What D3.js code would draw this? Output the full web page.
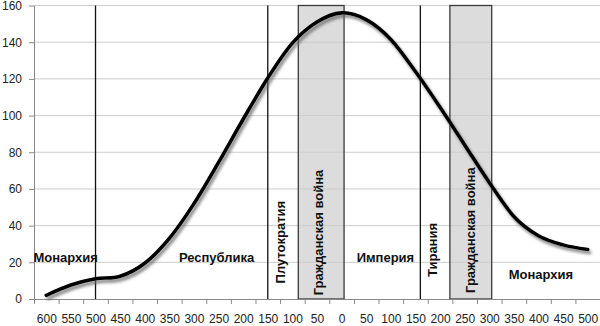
<!DOCTYPE html>
<html><head><meta charset="utf-8">
<script src="https://cdn.jsdelivr.net/npm/d3@7"></script>
<style>
html,body{margin:0;padding:0;background:#fff;}
svg{display:block;font-family:"Liberation Sans",Arial,sans-serif;}
</style></head>
<body>
<svg id="chart" width="600" height="326"></svg>
<script>
// ---- data ----
const categories = ["600","550","500","450","400","350","300","250","200","150","100","50","0","50","100","150","200","250","300","350","400","450","500"];
const years = [-600,-550,-500,-450,-400,-350,-300,-250,-200,-150,-100,-50,0,50,100,150,200,250,300,350,400,450,500];
const values = [2,7.6,11,12.4,19.5,33,52,74.5,98,120.5,139.5,151,156,152.3,141.5,124,104.5,84,63.5,45,34.5,29.5,27];
const yTicks = [0,20,40,60,80,100,120,140,160];
const dividerYears = [-500,-150,160];
const warStart = [-88,220];
const warEnd = [5,305];
const hLabels = ["Монархия","Республика","Империя","Монархия"];
const hLabelYear = [-626,-254,89,405];
const hLabelValue = [20,20,20,11];
const hLabelAnchor = ["start","middle","middle","middle"];
const vLabels = ["Плутократия","Гражданская война","Тирания","Гражданская война"];
const vLabelYear = [-125,-47,185,262];
const vLabelValue = [8.5,2,12,3.3];

// ---- layout ----
const svg = d3.select("#chart");
const mLeft = 34, mRight = 600, mTop = 5.5, mBottom = 299;
const x = d3.scaleLinear().domain([-625,525]).range([mLeft,mRight]);
const y = d3.scaleLinear().domain([0,160]).range([mBottom,mTop]);

const defs = svg.append("defs");
const f = defs.append("filter").attr("id","shadow").attr("x","-10%").attr("y","-10%").attr("width","120%").attr("height","130%");
f.append("feDropShadow").attr("dx",2).attr("dy",3).attr("stdDeviation",1.8).attr("flood-color","#666").attr("flood-opacity",0.8);

// war rectangles
svg.append("g").selectAll("rect").data(warStart).join("rect")
  .attr("x",(d)=>x(d))
  .attr("width",(d,i)=>x(warEnd[i])-x(d))
  .attr("y",y(160))
  .attr("height",y(0)-y(160))
  .attr("fill","#dcdcdc");

// gridlines
svg.append("g").selectAll("line").data(yTicks.filter(d=>d>0)).join("line")
  .attr("x1",mLeft).attr("x2",mRight)
  .attr("y1",d=>y(d)).attr("y2",d=>y(d))
  .attr("stroke","#cccccc").attr("stroke-width",1);

// war rect borders
svg.append("g").selectAll("rect").data(warStart).join("rect")
  .attr("x",(d)=>x(d))
  .attr("width",(d,i)=>x(warEnd[i])-x(d))
  .attr("y",y(160))
  .attr("height",y(0)-y(160))
  .attr("fill","none").attr("stroke","#3a3a3a").attr("stroke-width",1.3);

// y axis
const ya = svg.append("g").attr("transform",`translate(${mLeft},0)`)
  .call(d3.axisLeft(y).tickValues(yTicks).tickSize(5).tickSizeOuter(0).tickPadding(7));
ya.select(".domain").attr("stroke","#888");
ya.selectAll(".tick line").attr("stroke","#888");
ya.selectAll("text").attr("font-size",12).attr("fill","#222").attr("font-family","Liberation Sans, Arial, sans-serif");

// x axis: tick marks at category boundaries
const bounds = years.map(d=>d-25).concat([years[years.length-1]+25]);
const xt = svg.append("g").attr("transform",`translate(0,${mBottom})`)
  .call(d3.axisBottom(x).tickValues(bounds).tickSize(5).tickSizeOuter(0).tickFormat(""));
xt.select(".domain").attr("stroke","#888");
xt.selectAll(".tick line").attr("stroke","#888");
// x labels at category centres
const xl = svg.append("g").attr("transform",`translate(0,${mBottom})`)
  .call(d3.axisBottom(x).tickValues(years).tickSize(0).tickPadding(15).tickFormat((d,i)=>categories[i]));
xl.select(".domain").remove();
xl.selectAll("text").attr("font-size",12).attr("fill","#222").attr("font-family","Liberation Sans, Arial, sans-serif");

// horizontal labels
svg.append("g").selectAll("text").data(hLabels).join("text")
  .attr("x",(d,i)=>x(hLabelYear[i]))
  .attr("y",(d,i)=>y(hLabelValue[i]))
  .attr("text-anchor",(d,i)=>hLabelAnchor[i])
  .attr("font-size",13).attr("font-weight","bold").attr("fill","#111")
  .text(d=>d);

// vertical labels
svg.append("g").selectAll("text").data(vLabels).join("text")
  .attr("transform",(d,i)=>`translate(${x(vLabelYear[i])+4.5},${y(vLabelValue[i])}) rotate(-90)`)
  .attr("text-anchor","start")
  .attr("font-size",13).attr("font-weight","bold").attr("fill","#111")
  .text(d=>d);

// dividers
svg.append("g").selectAll("line").data(dividerYears).join("line")
  .attr("x1",d=>x(d)).attr("x2",d=>x(d))
  .attr("y1",y(160)).attr("y2",y(0))
  .attr("stroke","#111").attr("stroke-width",1.3);

// curve
const line = d3.line().x((d,i)=>x(years[i])).y(d=>y(d)).curve(d3.curveCatmullRom.alpha(0));
svg.append("path").datum(values)
  .attr("d",line)
  .attr("fill","none").attr("stroke","#000").attr("stroke-width",3.6)
  .attr("stroke-linecap","round")
  .attr("filter","url(#shadow)");
</script>
</body></html>
